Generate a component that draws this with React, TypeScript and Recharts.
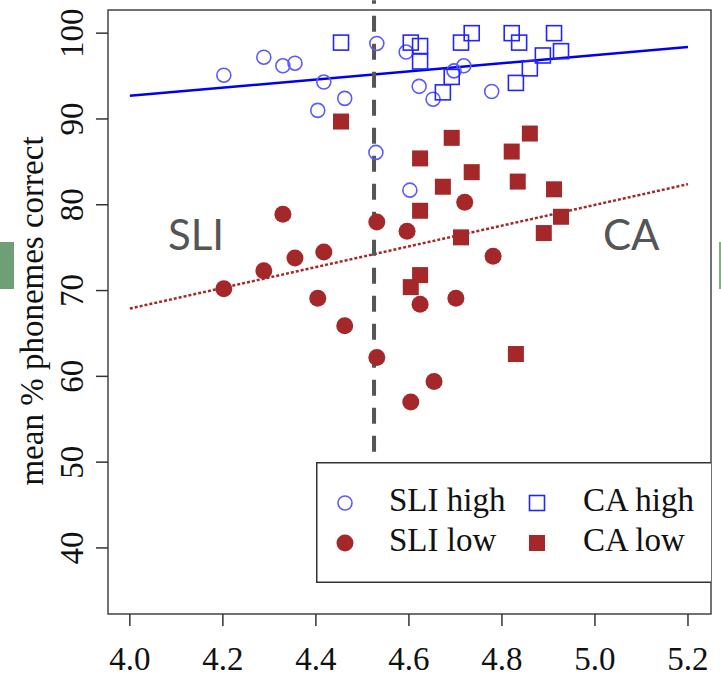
import {
  ReferenceArea,
  ReferenceLine,
  Scatter,
  ScatterChart,
  XAxis,
  YAxis
} from "recharts";

const xTicks = [4.0, 4.2, 4.4, 4.6, 4.8, 5.0, 5.2];
const yTicks = [40, 50, 60, 70, 80, 90, 100];
const xDomain = [3.953, 5.2495];
const yDomain = [32.3, 102.7];

const sliHighX = [4.202, 4.288, 4.329, 4.355, 4.417, 4.462, 4.404, 4.531, 4.529, 4.594, 4.622, 4.652, 4.602, 4.697, 4.718, 4.778];
const sliHighY = [95.1, 97.2, 96.2, 96.5, 94.3, 92.4, 91.0, 98.8, 86.1, 97.8, 93.8, 92.3, 81.7, 95.6, 96.2, 93.2];

const caHighX = [4.454, 4.604, 4.624, 4.624, 4.712, 4.735, 4.821, 4.837, 4.912, 4.927, 4.888, 4.86, 4.83, 4.692, 4.673];
const caHighY = [98.9, 98.9, 98.5, 96.7, 98.9, 100, 100, 98.9, 100, 97.9, 97.4, 95.9, 94.2, 94.9, 93.1];

const sliLowX = [4.202, 4.288, 4.329, 4.355, 4.417, 4.404, 4.462, 4.531, 4.531, 4.596, 4.72, 4.781, 4.624, 4.701, 4.654, 4.604];
const sliLowY = [70.2, 72.3, 78.9, 73.8, 74.5, 69.1, 65.9, 78.0, 62.2, 76.9, 80.3, 74.0, 68.4, 69.1, 59.4, 57.0];

const caLowX = [4.454, 4.692, 4.86, 4.624, 4.821, 4.735, 4.834, 4.673, 4.912, 4.624, 4.927, 4.89, 4.712, 4.624, 4.604, 4.83];
const caLowY = [89.7, 87.8, 88.3, 85.4, 86.2, 83.8, 82.7, 82.1, 81.8, 79.3, 78.6, 76.7, 76.2, 71.8, 70.4, 62.6];

// fitted lines, read at x = 4.0 and x = 5.2
const highFit = [92.7, 98.4];
const lowFit = [67.9, 82.4];
const cutoffX = 4.525;
const cutoffY = [51.2, 103.85];

const toPoints = (xs: number[], ys: number[]) => xs.map((x, i) => ({ x, y: ys[i] }));

const BLUE = "#5a5aff";
const BLUE_SQ = "#2424ff";
const RED = "#a4282a";
const SERIF = "'Liberation Serif', 'Times New Roman', serif";

const OpenCircle = (p: any) => (
  <circle cx={p.cx} cy={p.cy} r={7} fill="none" stroke={BLUE} strokeWidth={1.6} />
);
const OpenSquare = (p: any) => (
  <rect x={p.cx - 7.5} y={p.cy - 7.5} width={15} height={15} fill="none" stroke={BLUE_SQ} strokeWidth={1.6} />
);
const FilledCircle = (p: any) => <circle cx={p.cx} cy={p.cy} r={8.5} fill={RED} />;
const FilledSquare = (p: any) => (
  <rect x={p.cx - 8} y={p.cy - 8} width={16} height={16} fill={RED} />
);

const XTick = ({ x, y, payload }: any) => (
  <text x={x} y={y + 42} textAnchor="middle" fontFamily={SERIF} fontSize={33} fill="#111">
    {payload.value.toFixed(1)}
  </text>
);

const YTick = ({ x, y, payload }: any) => (
  <text
    x={x - 11}
    y={y}
    textAnchor="middle"
    fontFamily={SERIF}
    fontSize={33}
    fill="#111"
    transform={`rotate(-90, ${x - 11}, ${y})`}
  >
    {payload.value}
  </text>
);

const YLabel = ({ viewBox }: any) => {
  const cx = viewBox.x + 43;
  const cy = 311;
  return (
    <text x={cx} y={cy} textAnchor="middle" fontFamily={SERIF} fontSize={33} fill="#111" transform={`rotate(-90, ${cx}, ${cy})`}>
      mean % phonemes correct
    </text>
  );
};

const legendRows = [
  { left: "SLI high", right: "CA high" },
  { left: "SLI low", right: "CA low" }
];

const LegendBox = () => (
  <svg width={395} height={121} style={{ position: "absolute", left: 316, top: 462 }}>
    <rect x={0.75} y={0.75} width={400} height={119.5} fill="#fff" stroke="#333" strokeWidth={1.5} />
    {legendRows.map((row, i) => {
      const cy = 41 + i * 40;
      return (
        <g key={row.left}>
          {i === 0 ? (
            <circle cx={29} cy={cy} r={7} fill="none" stroke={BLUE} strokeWidth={1.6} />
          ) : (
            <circle cx={29} cy={cy} r={8.5} fill={RED} />
          )}
          <text x={73} y={cy + 8} fontFamily={SERIF} fontSize={33} fill="#111">{row.left}</text>
          {i === 0 ? (
            <rect x={213.5} y={cy - 7.5} width={15} height={15} fill="none" stroke={BLUE_SQ} strokeWidth={1.6} />
          ) : (
            <rect x={213} y={cy - 8} width={16} height={16} fill={RED} />
          )}
          <text x={267} y={cy + 8} fontFamily={SERIF} fontSize={33} fill="#111">{row.right}</text>
        </g>
      );
    })}
  </svg>
);

const groupLabel = {
  position: "absolute" as const,
  fontFamily: "Lato, 'Open Sans', sans-serif",
  fontSize: 42,
  color: "#555",
  lineHeight: "42px"
};

export default function App() {
  return (
    <div style={{ position: "absolute", left: 0, top: 0, width: 721, height: 674, background: "#fff" }}>
      <div style={{ position: "absolute", left: 0, top: 242, width: 14, height: 47, background: "#6f9f76" }} />
      <div style={{ position: "absolute", left: 719, top: 242, width: 2, height: 47, background: "#7fb083" }} />
      <ScatterChart width={721} height={674} margin={{ top: 10, right: 10, bottom: 0, left: 0 }}>
        <XAxis
          type="number"
          dataKey="x"
          domain={xDomain}
          ticks={xTicks}
          allowDataOverflow
          axisLine={false}
          tickSize={12}
          tickMargin={2}
          tickLine={{ stroke: "#333", strokeWidth: 1.5 }}
          tick={XTick}
          height={60}
        />
        <YAxis
          type="number"
          dataKey="y"
          domain={yDomain}
          ticks={yTicks}
          allowDataOverflow
          axisLine={false}
          tickSize={12}
          tickMargin={2}
          tickLine={{ stroke: "#333", strokeWidth: 1.5 }}
          tick={YTick}
          width={108}
          label={{ content: YLabel }}
        />
        <ReferenceArea x1={xDomain[0]} x2={xDomain[1]} y1={yDomain[0]} y2={yDomain[1]} fill="none" stroke="#444" strokeWidth={1.5} ifOverflow="visible" />
        <ReferenceLine
          segment={[{ x: xTicks[0], y: highFit[0] }, { x: xTicks[6], y: highFit[1] }]}
          stroke="#0000f0"
          strokeWidth={2.5}
        />
        <ReferenceLine
          segment={[{ x: xTicks[0], y: lowFit[0] }, { x: xTicks[6], y: lowFit[1] }]}
          stroke={RED}
          strokeWidth={2.5}
          strokeDasharray="3 2"
        />
        <Scatter name="SLI high" data={toPoints(sliHighX, sliHighY)} shape={OpenCircle} isAnimationActive={false} />
        <Scatter name="CA high" data={toPoints(caHighX, caHighY)} shape={OpenSquare} isAnimationActive={false} />
        <Scatter name="SLI low" data={toPoints(sliLowX, sliLowY)} shape={FilledCircle} isAnimationActive={false} />
        <Scatter name="CA low" data={toPoints(caLowX, caLowY)} shape={FilledSquare} isAnimationActive={false} />
        <ReferenceLine
          segment={[{ x: cutoffX, y: cutoffY[0] }, { x: cutoffX, y: cutoffY[1] }]}
          stroke="#555"
          strokeWidth={4}
          strokeDasharray="16 12"
          ifOverflow="visible"
        />
      </ScatterChart>
      <LegendBox />
      <div style={{ ...groupLabel, left: 168, top: 213 }}>SLI</div>
      <div style={{ ...groupLabel, left: 603, top: 213 }}>CA</div>
    </div>
  );
}
